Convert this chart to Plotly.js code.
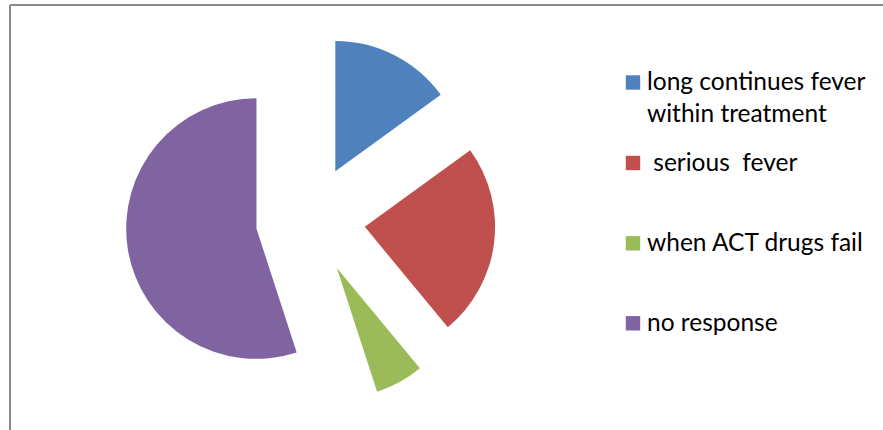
<!DOCTYPE html>
<html>
<head>
<meta charset="utf-8">
<script src="https://cdn.plot.ly/plotly-3.0.1.min.js"></script>
<style>html,body{margin:0;padding:0;background:#fff}#chart{width:883px;height:430px}</style>
</head>
<body>
<div id="chart"></div>
<script>
// Data (percent shares)
var labels = ["long continues fever<br>within treatment", " serious  fever", "when ACT drugs fail", "no response"];
var values = [15, 24, 6, 55];
var colors = ["#4F81BD", "#C0504D", "#9BBB59", "#8064A2"];

var W = 883, H = 430;
var pullFrac = 0.42;

var trace = {
  type: "pie",
  labels: labels,
  values: values,
  sort: false,
  direction: "clockwise",
  rotation: 0,
  pull: values.map(function(){ return pullFrac; }),
  marker: { colors: colors, line: { width: 0 } },
  textinfo: "none",
  hoverinfo: "label+percent",
  showlegend: false,
  domain: { x: [125.5 / W, 495.5 / W], y: [1 - 405 / H, 1 - 35 / H] }
};

// Legend built from labels/colors
var legendMarkerX = 633, legendTextX = 645;
var legendRowY = [82.5, 163, 243.3, 323.3];
var lineGap = 31.7;
var textOffset = -2;
var annotations = [];
var shapes = [
  { type: "line", xref: "paper", yref: "paper", x0: 10 / W, x1: 10 / W, y0: 0, y1: 1 - 5 / H, line: { color: "#898989", width: 2 } },
  { type: "line", xref: "paper", yref: "paper", x0: 10 / W, x1: 1, y0: 1 - 5 / H, y1: 1 - 5 / H, line: { color: "#898989", width: 2 } }
];
labels.forEach(function (lab, i) {
  var cy = legendRowY[i];
  shapes.push({
    type: "rect", xref: "paper", yref: "paper",
    x0: (legendMarkerX - 7.2) / W, x1: (legendMarkerX + 7.2) / W,
    y0: 1 - (cy + 7.2) / H, y1: 1 - (cy - 7.2) / H,
    fillcolor: colors[i], line: { width: 0 }
  });
  lab.split("<br>").forEach(function (ln, j) {
    annotations.push({
      xref: "paper", yref: "paper",
      x: legendTextX / W, y: 1 - (cy + textOffset + j * lineGap) / H,
      xanchor: "left", yanchor: "middle",
      text: ln.replace(/ /g, "&nbsp;"),
      showarrow: false,
      font: { family: "Lato, 'Open Sans', sans-serif", size: 24.5, color: "#000" }
    });
  });
});

var layout = {
  width: W, height: H,
  margin: { l: 0, r: 0, t: 0, b: 0 },
  paper_bgcolor: "#fff",
  plot_bgcolor: "#fff",
  showlegend: false,
  shapes: shapes,
  annotations: annotations
};

Plotly.newPlot("chart", [trace], layout, { displayModeBar: false, staticPlot: true });
</script>
</body>
</html>
